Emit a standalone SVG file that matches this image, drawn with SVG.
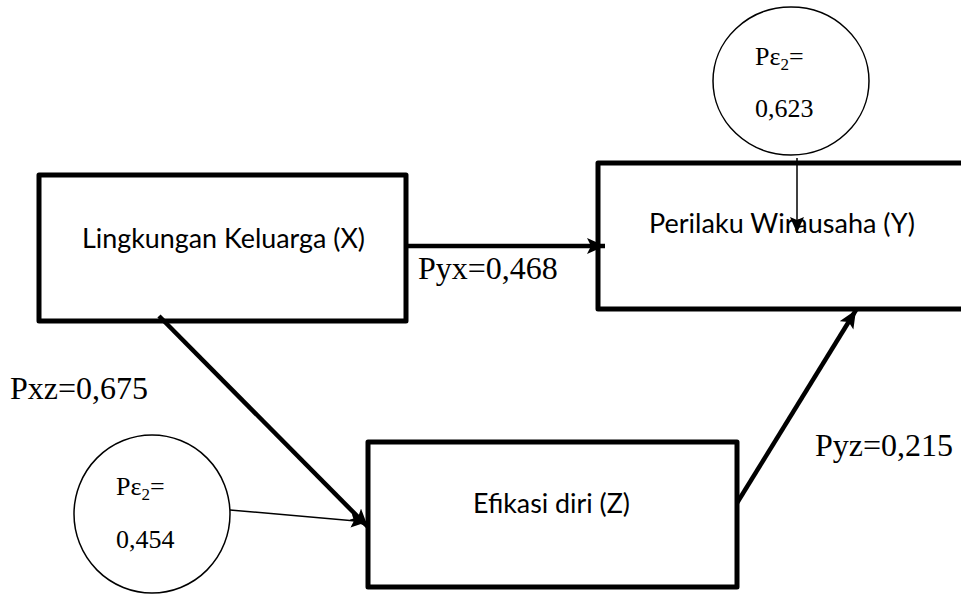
<svg xmlns="http://www.w3.org/2000/svg" width="961" height="596" viewBox="0 0 961 596">
<style>
.box{fill:#fff;stroke:#000;stroke-width:5;stroke-linejoin:round}
.circ{fill:#fff;stroke:#000;stroke-width:1.5}
.lbl{font-family:"Lato","Open Sans","Liberation Sans",sans-serif;font-size:26px;fill:#000}
.ser{font-family:"Liberation Serif","Times New Roman",serif;font-size:32px;fill:#000}
.ser2{font-family:"Liberation Serif","Times New Roman",serif;font-size:26px;fill:#000}
.sub{font-size:17px}
.thick{stroke:#000;stroke-width:4.5;fill:none}
.thin{stroke:#000;stroke-width:1.5;fill:none}
</style>
<defs>
<marker id="ah" markerUnits="userSpaceOnUse" markerWidth="20" markerHeight="18" refX="18" refY="8" orient="auto">
<path d="M0,0 L18,8 L0,16 L4,8 Z" fill="#000"/>
</marker>
<marker id="ahs" markerUnits="userSpaceOnUse" markerWidth="18" markerHeight="16" refX="16" refY="7" orient="auto">
<path d="M0,0 L16,7 L0,14 L3,7 Z" fill="#000"/>
</marker>
</defs>
<rect width="961" height="596" fill="#fff"/>
<g id="node-x">
<rect class="box" x="39" y="175" width="367" height="146"/>
<text class="lbl" x="82" y="248" textLength="283" lengthAdjust="spacingAndGlyphs">Lingkungan Keluarga (X)</text>
</g>
<g id="node-y">
<rect class="box" x="598" y="163" width="380" height="146"/>
<text class="lbl" x="649" y="233" textLength="266" lengthAdjust="spacingAndGlyphs">Perilaku Wirausaha (Y)</text>
</g>
<g id="node-z">
<rect class="box" x="368" y="442" width="369" height="145"/>
<text class="lbl" x="473" y="513" textLength="157" lengthAdjust="spacingAndGlyphs">Efikasi diri (Z)</text>
</g>
<g id="node-e1">
<ellipse class="circ" cx="791" cy="81" rx="78" ry="74"/>
<text class="ser2" x="755" y="65">Pε<tspan class="sub" dy="5">2</tspan><tspan dy="-5">=</tspan></text>
<text class="ser2" x="755" y="117">0,623</text>
</g>
<g id="node-e2">
<ellipse class="circ" cx="152" cy="514" rx="78" ry="79"/>
<text class="ser2" x="116" y="495">Pε<tspan class="sub" dy="5">2</tspan><tspan dy="-5">=</tspan></text>
<text class="ser2" x="116" y="548">0,454</text>
</g>
<g id="connectors">
<line class="thick" x1="406" y1="246" x2="605" y2="246" marker-end="url(#ah)"/>
<line class="thick" x1="159" y1="316" x2="368" y2="527" marker-end="url(#ah)"/>
<line class="thick" x1="737" y1="503" x2="856" y2="310" marker-end="url(#ah)"/>
<line class="thin" x1="797" y1="158" x2="797" y2="233" marker-end="url(#ahs)"/>
<line class="thin" x1="230" y1="510" x2="367" y2="522" marker-end="url(#ahs)"/>
</g>
<g id="labels">
<text class="ser" x="418" y="279">Pyx=0,468</text>
<text class="ser" x="10" y="399">Pxz=0,675</text>
<text class="ser" x="815" y="456">Pyz=0,215</text>
</g>
</svg>
